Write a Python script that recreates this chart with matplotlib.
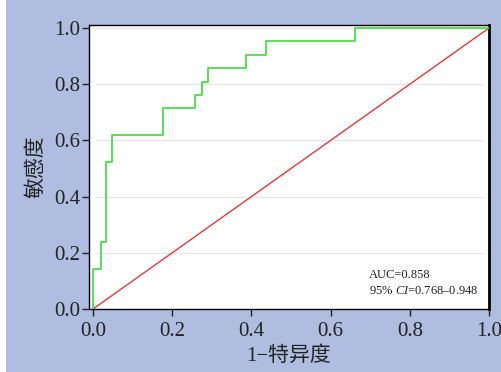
import matplotlib.pyplot as plt
from matplotlib.patches import Rectangle

# ROC curve step points
fpr = [0.0, 0.0, 0.019, 0.019, 0.034, 0.034, 0.049, 0.049, 0.178, 0.178,
       0.258, 0.258, 0.275, 0.275, 0.290, 0.290, 0.387, 0.387, 0.436, 0.436,
       0.662, 0.662, 1.0]
tpr = [0.0, 3/21, 3/21, 5/21, 5/21, 11/21, 11/21, 13/21, 13/21, 15/21,
       15/21, 16/21, 16/21, 17/21, 17/21, 18/21, 18/21, 19/21, 19/21, 20/21,
       20/21, 1.0, 1.0]
ref_line = [0.0, 1.0]
ticks = [0.0, 0.2, 0.4, 0.6, 0.8, 1.0]
tick_labels = ["0.0", "0.2", "0.4", "0.6", "0.8", "1.0"]

serif = ['Liberation Serif', 'Noto Sans CJK SC']
plt.rcParams['font.family'] = serif
plt.rcParams['mathtext.fontset'] = 'custom'
plt.rcParams['mathtext.rm'] = 'Liberation Serif'
plt.rcParams['mathtext.it'] = 'Liberation Serif:italic'

fig = plt.figure(figsize=(5.02, 3.72), dpi=100)
fig.patch.set_facecolor('#AFBDE0')
fig.patches.append(Rectangle((0, 0), 6 / 502, 1, transform=fig.transFigure,
                             facecolor='white', edgecolor='none', zorder=-1))

ax = fig.add_axes([89 / 502, 63 / 372, 400 / 502, 284 / 372])
ax.set_facecolor('white')

for y in ticks[1:]:
    ax.axhline(y, xmin=0.017, xmax=0.985, color='#E8E8E8', lw=1.0, zorder=1)

ax.plot(ref_line, ref_line, color='#E03A3A', lw=1.0, zorder=2)
ax.plot(fpr, tpr, color='#4CDB4C', lw=1.3, zorder=3)

ax.set_xlim(-0.0101, 1.0)
ax.set_ylim(0.0, 1.0107)
ax.set_xticks(ticks)
ax.set_xticklabels(tick_labels)
ax.set_yticks(ticks)
ax.set_yticklabels(tick_labels)
ax.tick_params(direction='out', length=5, width=1, labelsize=15,
               colors='#222222', pad=1)
ax.tick_params(axis='x', pad=4)

for side in ['left', 'bottom', 'top']:
    ax.spines[side].set_linewidth(1.0)
    ax.spines[side].set_color('black')
ax.spines['right'].set_linewidth(2.0)
ax.spines['right'].set_color('black')

ax.set_xlabel("1−特异度", fontsize=15, color='#222222', labelpad=4)
ax.set_ylabel("敏感度", fontsize=15, color='#222222', labelpad=6)

ax.text(0.697, 0.112, "AUC=0.858", fontsize=9, color='#222222',
        transform=ax.transData)
ax.text(0.697, 0.052, "95% $\\mathit{CI}$=0.768–0.948", fontsize=9,
        color='#222222', transform=ax.transData)

fig.savefig("out.png", dpi=100, facecolor=fig.get_facecolor())
